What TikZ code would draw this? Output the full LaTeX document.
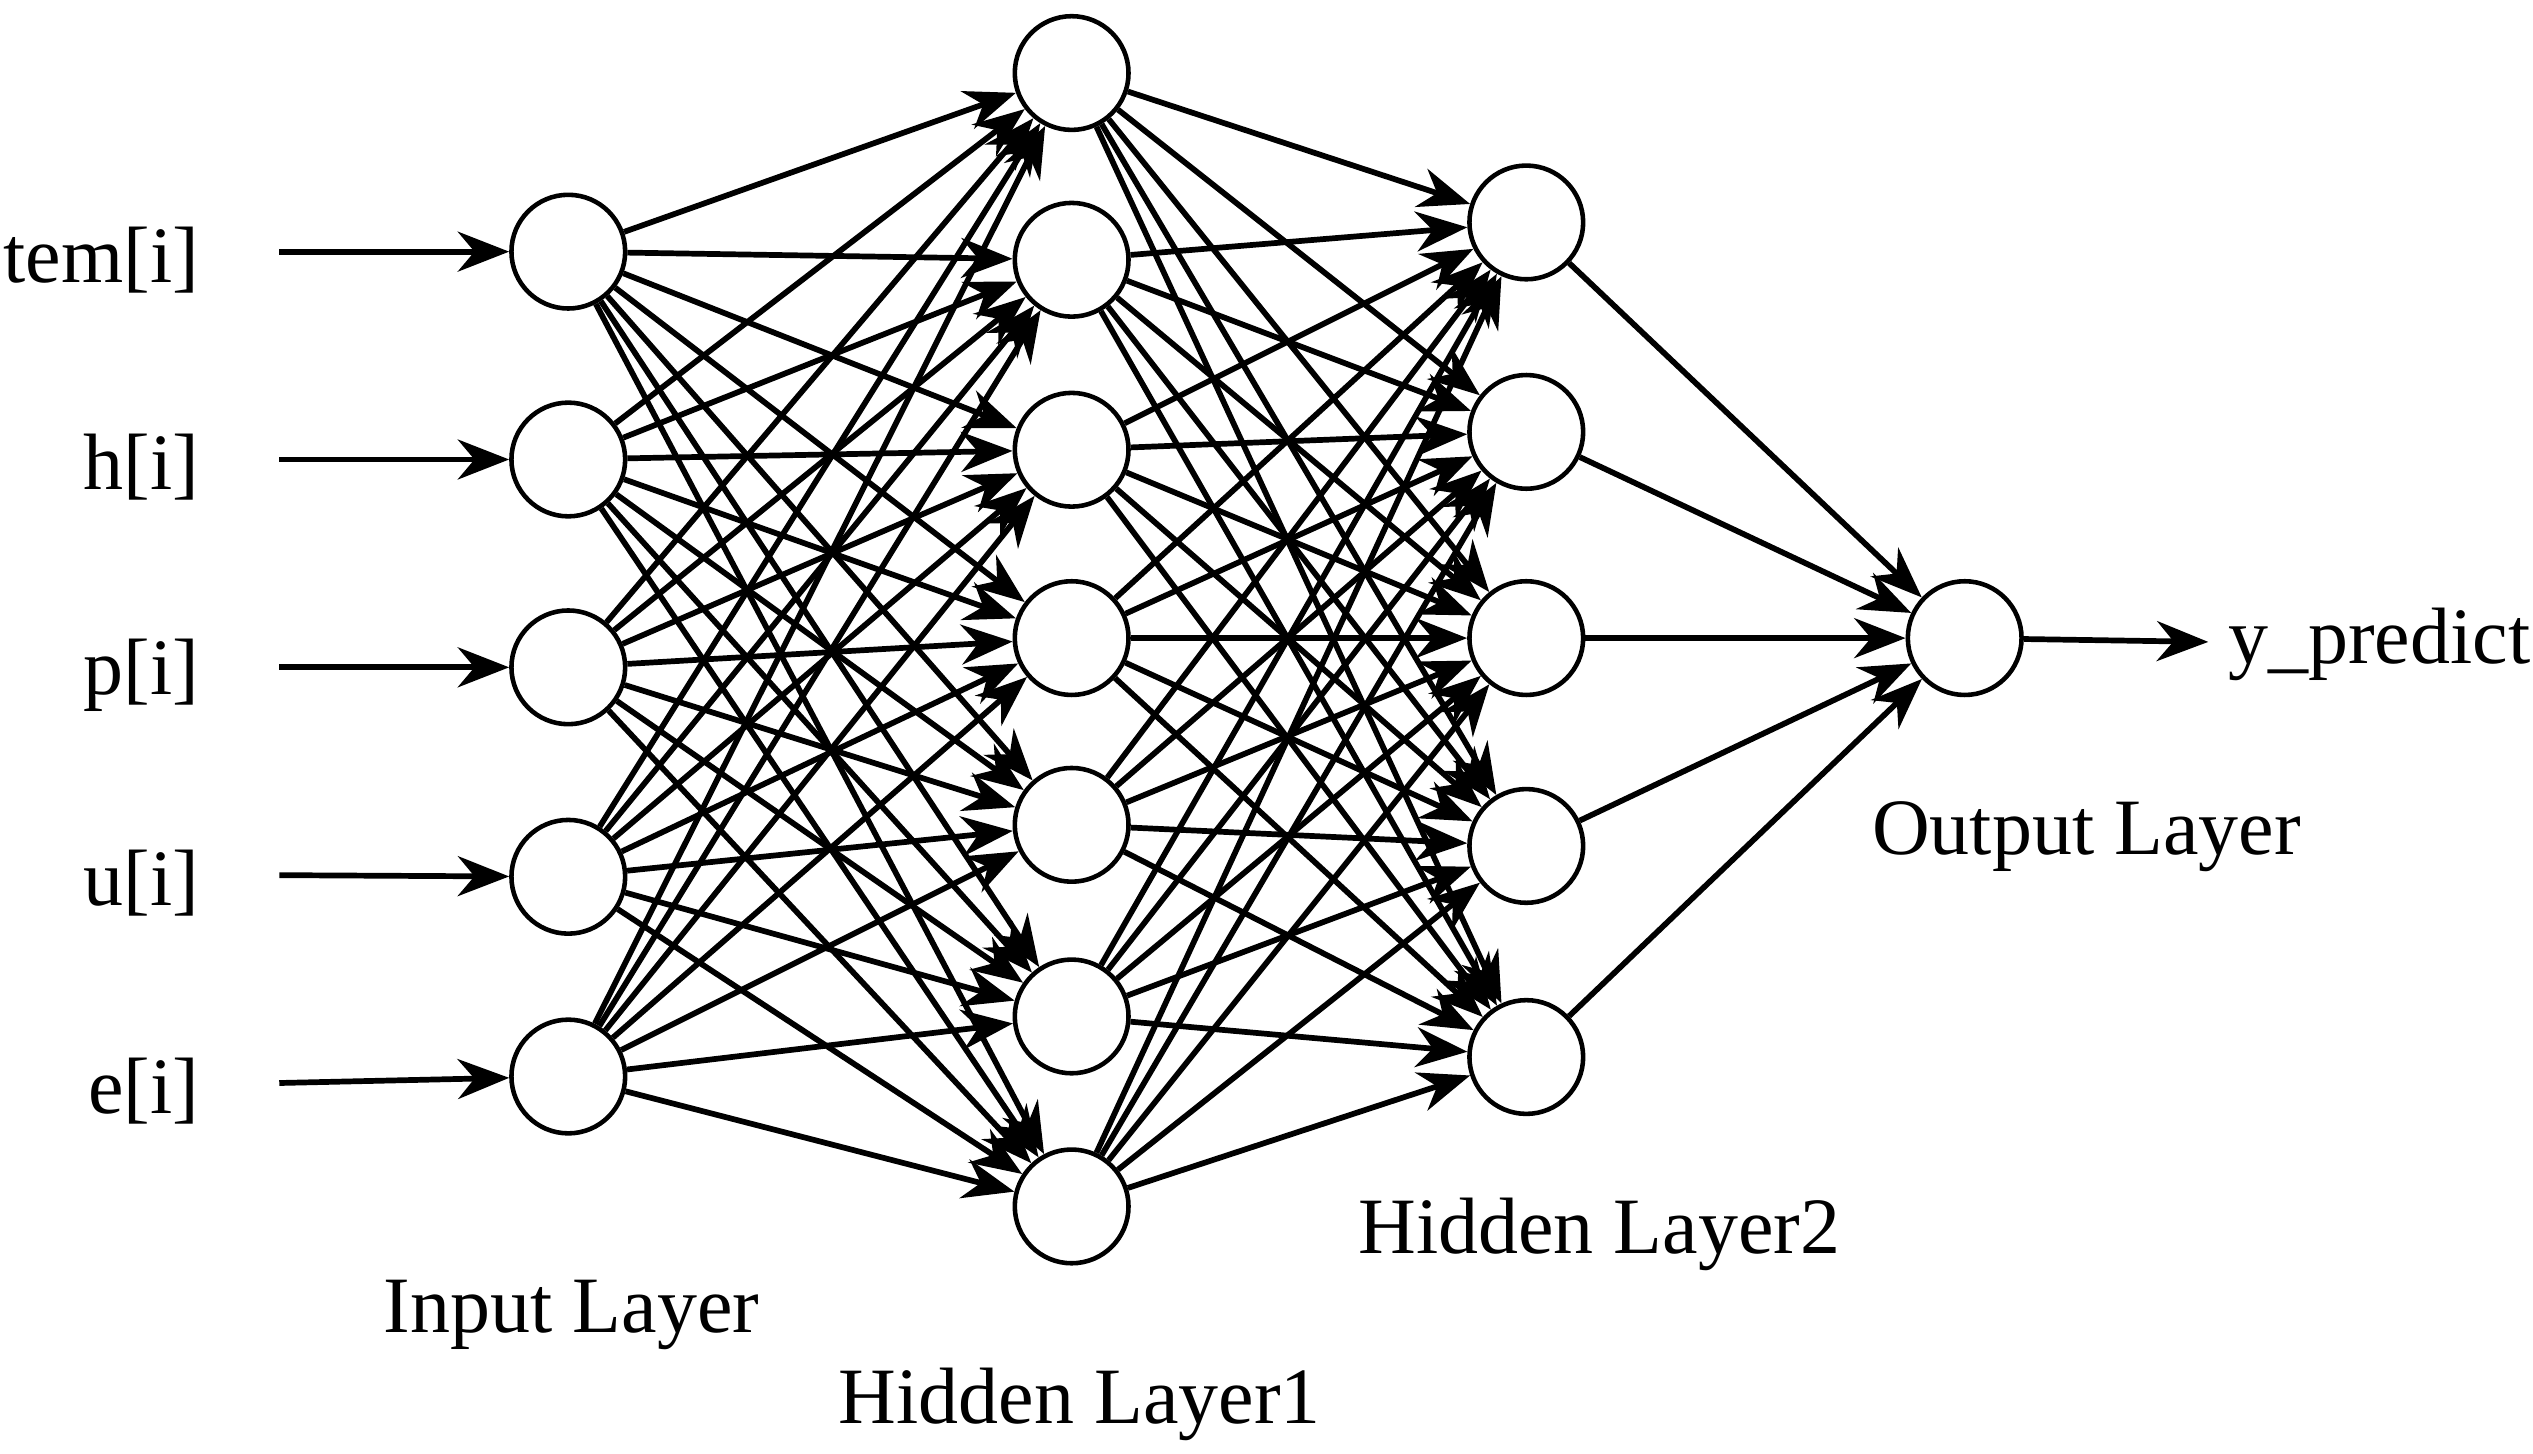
\documentclass[tikz,border=0pt]{standalone}
\usepackage{fontspec}
\setmainfont{Liberation Serif}
\usetikzlibrary{arrows.meta}
\begin{document}
\begin{tikzpicture}[x=0.01cm,y=-0.01cm]
\tikzstyle{neuron}=[circle,draw,line width=0.8pt,minimum size=0.7cm,inner sep=0pt]
\tikzstyle{link}=[line width=1pt,-{Stealth[length=9pt,width=7pt]}]
\tikzstyle{lbl}=[font=\fontsize{14}{16}\selectfont]
\useasboundingbox (0,0) rectangle (1560,895);
% input layer
\foreach \y [count=\i] in {155,283,411,540,663}
  \node[neuron] (in\i) at (350,\y) {};
% hidden layers
\foreach \y [count=\i] in {45,160,277,393,508,626,743}
  \node[neuron] (ha\i) at (660,\y) {};
\foreach \y [count=\i] in {137,266,393,521,651}
  \node[neuron] (hb\i) at (940,\y) {};
\node[neuron] (out) at (1210,393) {};
% inputs
\foreach \t [count=\i] in {tem[i],h[i],p[i],u[i],e[i]} {
  \node[lbl,anchor=east] (x\i) at (135,\i*128-128+160) {\t};
  \coordinate (s\i) at (172,\i*128-128+155);
  \draw[link] (s\i) -- (in\i);
}
% connections
\foreach \i in {1,...,5}
  \foreach \j in {1,...,7}
    \draw[link] (in\i) -- (ha\j);
\foreach \i in {1,...,7}
  \foreach \j in {1,...,5}
    \draw[link] (ha\i) -- (hb\j);
\foreach \i in {1,...,5}
  \draw[link] (hb\i) -- (out);
\node[lbl,anchor=west] (y) at (1360,397) {y\_predict};
\draw[link] (out) -- (y);
% layer names
\node[lbl] (l1) at (352,810) {Input Layer};
\node[lbl] (l2) at (665,865) {Hidden Layer1};
\node[lbl] (l3) at (985,760) {Hidden Layer2};
\node[lbl] (l4) at (1285,515) {Output Layer};
\end{tikzpicture}
\end{document}
